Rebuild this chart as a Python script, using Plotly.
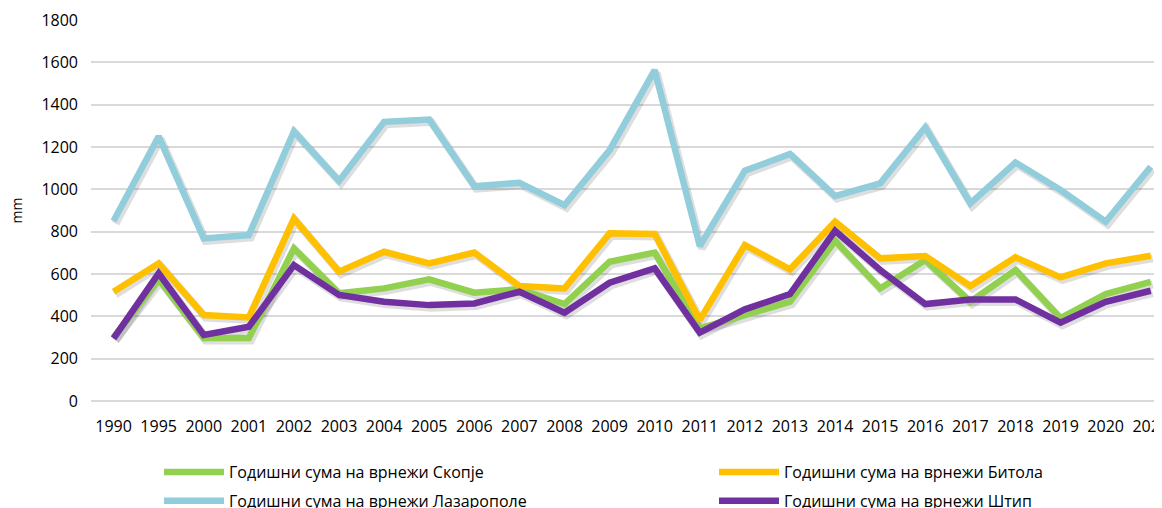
import plotly.graph_objects as go

years = ["1990", "1995", "2000", "2001", "2002", "2003", "2004", "2005", "2006", "2007", "2008",
         "2009", "2010", "2011", "2012", "2013", "2014", "2015", "2016", "2017", "2018", "2019",
         "2020", "2021"]

skopje = [300, 575, 298, 298, 721, 509, 532, 575, 512, 528, 458, 658, 701, 343, 406, 469,
          757, 532, 666, 469, 619, 391, 505, 563]
bitola = [516, 650, 406, 395, 862, 611, 705, 650, 701, 543, 532, 792, 789, 383, 737, 622,
          847, 674, 685, 543, 679, 584, 650, 686]
lazaropole = [850, 1250, 768, 784, 1274, 1040, 1319, 1330, 1015, 1031, 925, 1185, 1563, 732,
              1088, 1167, 968, 1028, 1293, 933, 1127, 997, 847, 1107]
shtip = [296, 603, 312, 351, 642, 501, 469, 453, 461, 516, 417, 559, 627, 323, 433, 505,
         804, 619, 458, 480, 480, 370, 469, 521]

names = ["Годишни сума на врнежи Скопје", "Годишни сума на врнежи Битола",
         "Годишни сума на врнежи Лазарополе", "Годишни сума на врнежи Штип"]
colors = ["#92D050", "#FFC000", "#92CDDC", "#7030A0"]
legends = ["legend", "legend2", "legend", "legend2"]
series = [skopje, bitola, lazaropole, shtip]

X0, X1 = -0.5, 23.25
Y0, Y1 = 0, 1800
PLOT_W, PLOT_H = 1071, 381
# drop-shadow offset (pixels) expressed as axis-range shifts
dx = 2.0 * (X1 - X0) / PLOT_W
dy = 2.5 * (Y1 - Y0) / PLOT_H

fig = go.Figure()
# soft drop shadows on the base axes (shifted ranges)
for vals in series:
    fig.add_trace(go.Scatter(
        x=years, y=vals, mode="lines", showlegend=False, hoverinfo="skip",
        line=dict(color="rgba(0,0,0,0.13)", width=8), xaxis="x", yaxis="y",
    ))
# main series on overlaid axes with the true ranges
for vals, name, col, lg in zip(series, names, colors, legends):
    fig.add_trace(go.Scatter(
        x=years, y=vals, name=name, mode="lines",
        line=dict(color=col, width=6.5, shape="linear"),
        legend=lg, legendgroup=name, xaxis="x2", yaxis="y2",
    ))

font_main = "Open Sans, Liberation Sans, sans-serif"
H = 500

fig.update_layout(
    width=1154, height=H,
    margin=dict(l=83, r=0, t=12, b=107, autoexpand=False),
    paper_bgcolor="white", plot_bgcolor="white",
    font=dict(family=font_main, size=15, color="#000000"),
    xaxis=dict(
        type="category", range=[X0 - dx, X1 - dx],
        showgrid=False, showline=False, zeroline=False, showticklabels=False, ticks="",
    ),
    yaxis=dict(
        range=[Y0 + dy, Y1 + dy], showgrid=False, zeroline=False, showline=False,
        showticklabels=False, ticks="",
    ),
    xaxis2=dict(
        type="category", range=[X0, X1], overlaying="x", side="bottom", anchor="y2",
        showgrid=False, showline=False, zeroline=False,
        ticks="", tickfont=dict(size=16), ticklabelstandoff=14, tickangle=0,
    ),
    yaxis2=dict(
        range=[Y0, Y1], dtick=200, tick0=0, overlaying="y", side="left", anchor="x2",
        showgrid=True, gridcolor="#D9D9D9", gridwidth=1.5,
        zeroline=True, zerolinecolor="#D9D9D9", zerolinewidth=1.5,
        showline=False, ticks="", tickfont=dict(size=16), ticklabelstandoff=12,
    ),
    annotations=[dict(
        text="mm", textangle=-90, xref="paper", yref="paper",
        x=(8 - 83) / PLOT_W, y=0.5, xanchor="center", yanchor="middle",
        showarrow=False, font=dict(size=14, family=font_main),
    )],
    legend=dict(
        xref="container", yref="container", x=151 / 1154, y=1 - 447 / H,
        xanchor="left", yanchor="top", orientation="v",
        font=dict(size=16, family=font_main), tracegroupgap=5, itemwidth=60,
        bgcolor="rgba(0,0,0,0)",
    ),
    legend2=dict(
        xref="container", yref="container", x=706 / 1154, y=1 - 447 / H,
        xanchor="left", yanchor="top", orientation="v",
        font=dict(size=16, family=font_main), tracegroupgap=5, itemwidth=60,
        bgcolor="rgba(0,0,0,0)",
    ),
    showlegend=True,
)

fig.write_html("out.html")
